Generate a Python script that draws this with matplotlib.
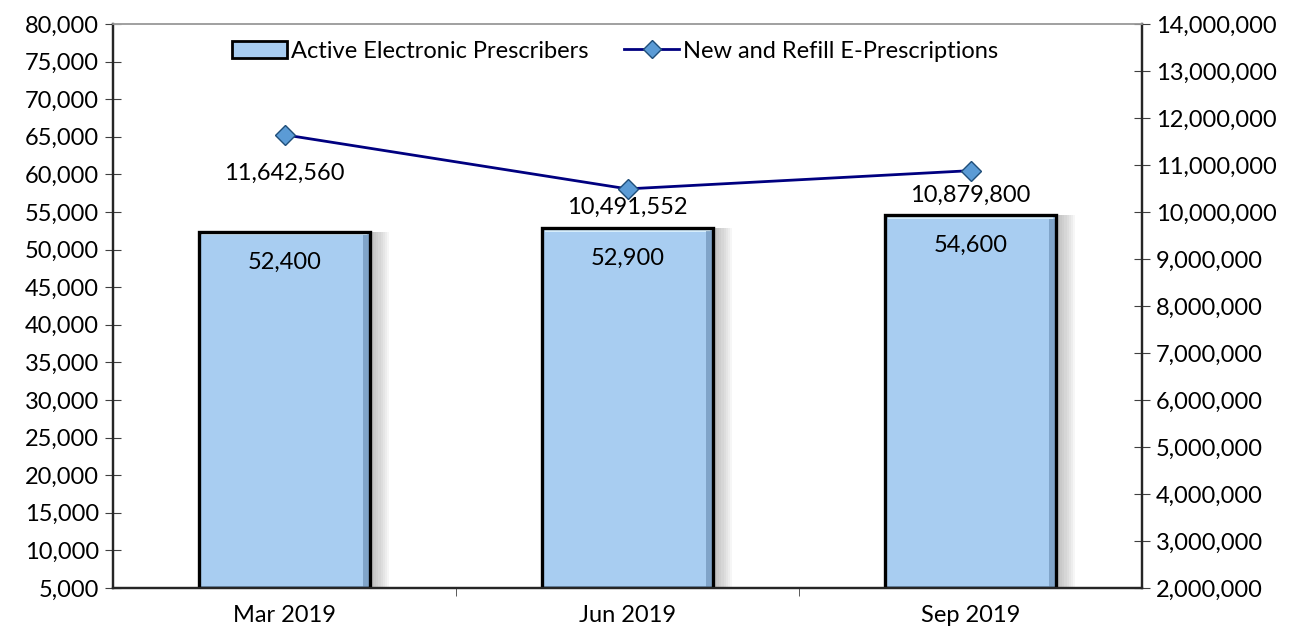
import numpy as np
import matplotlib.pyplot as plt
from matplotlib.ticker import FuncFormatter, MultipleLocator, FixedLocator
from matplotlib.lines import Line2D
from matplotlib.patches import Patch

plt.rcParams['font.family'] = ['Lato', 'DejaVu Sans']

# data
quarters = ['Mar 2019', 'Jun 2019', 'Sep 2019']
prescribers = [52400, 52900, 54600]
erx = [11642560, 10491552, 10879800]

bar_color = '#A8CDF1'
line_color = '#000080'
marker_face = '#5B9BD5'
fs = 17

fig = plt.figure(figsize=(12.93, 6.26), dpi=100)
ax = fig.add_axes([113 / 1293, 38 / 626, 1029 / 1293, 564 / 626])
ax2 = ax.twinx()

x = np.arange(len(quarters))
w = 0.5
base = 5000

# soft shadow to the right of each bar
for i, v in enumerate(prescribers):
    for k in range(8):
        ax.bar(x[i] + 0.012 + k * 0.006, v - base, width=w, bottom=base,
               color='#808080', alpha=0.07, linewidth=0, zorder=1)

ax.bar(x, np.array(prescribers) - base, width=w, bottom=base,
       color=bar_color, linewidth=0, zorder=3)

# bevel hint: lighter band at top, darker bands at right and bottom
for i, v in enumerate(prescribers):
    ax.bar(x[i], 450, width=w * 0.96, bottom=v - 500, color='#D6EEFC',
           linewidth=0, zorder=4)
    ax.bar(x[i] + w / 2 - 0.01, v - base - 500, width=0.02, bottom=base + 30,
           color='#6F93B8', linewidth=0, zorder=4, alpha=0.7)
    ax.bar(x[i], 250, width=w, bottom=base, color='#6F93B8',
           linewidth=0, zorder=4, alpha=0.7)
    ax.text(x[i], v - 4100, f'{v:,}', ha='center', va='center', fontsize=fs, zorder=6)

# outlines on top
ax.bar(x, np.array(prescribers) - base, width=w, bottom=base,
       fill=False, edgecolor='black', linewidth=2.4, zorder=5)

ax.set_xlim(-0.5, 2.5)
ax.set_ylim(5000, 80000)
ax.yaxis.set_major_locator(MultipleLocator(5000))
ax.yaxis.set_major_formatter(FuncFormatter(lambda v, p: f'{int(v):,}'))
ax.set_xticks(x)
ax.set_xticklabels(quarters)
ax.xaxis.set_minor_locator(FixedLocator([0.5, 1.5]))
ax.tick_params(axis='x', which='major', length=0, labelsize=fs, pad=12)
ax.tick_params(axis='x', which='minor', length=6, direction='out', color='#404040')
ax.tick_params(axis='y', direction='inout', length=12, labelsize=fs, color='#404040', pad=4)

ax2.plot(x, erx, color=line_color, linewidth=2, marker='D', markersize=10,
         markerfacecolor=marker_face, markeredgecolor='#1F4E79', markeredgewidth=1, zorder=5)
ax2.set_ylim(2000000, 14000000)
ax2.yaxis.set_major_locator(MultipleLocator(1000000))
ax2.yaxis.set_major_formatter(FuncFormatter(lambda v, p: f'{int(v):,}'))
ax2.tick_params(axis='y', direction='inout', length=12, labelsize=fs, color='#404040', pad=4)

offsets = [-830000, -400000, -530000]
for i, v in enumerate(erx):
    ax2.text(x[i], v + offsets[i], f'{v:,}', ha='center', va='center', fontsize=fs, zorder=6)

ax2.set_zorder(ax.get_zorder() + 1)
ax2.patch.set_visible(False)

for a in (ax, ax2):
    for s in ('left', 'right', 'bottom'):
        a.spines[s].set_color('#262626')
        a.spines[s].set_linewidth(1.6)
    a.spines['top'].set_color('#A0A0A0')
    a.spines['top'].set_linewidth(1.2)

handles = [Patch(facecolor=bar_color, edgecolor='black', linewidth=2),
           Line2D([0], [0], color=line_color, linewidth=2, marker='D', markersize=9,
                  markerfacecolor=marker_face, markeredgecolor='#1F4E79')]
ax2.legend(handles, ['Active Electronic Prescribers', 'New and Refill E-Prescriptions'],
           loc='upper left', bbox_to_anchor=(0.1, 1.0), ncol=2, frameon=False,
           fontsize=fs, handlelength=2.3, handletextpad=0.2, columnspacing=1.5,
           borderaxespad=0.3)

fig.savefig('out.png', dpi=100)
